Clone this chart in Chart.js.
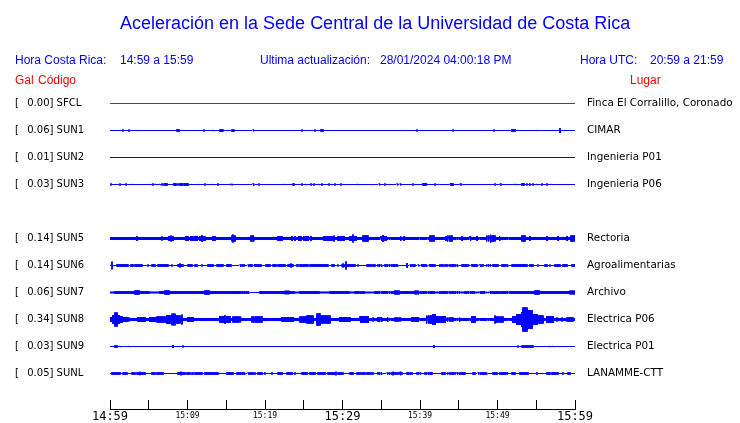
<!DOCTYPE html>
<html><head><meta charset="utf-8">
<script src="https://cdn.jsdelivr.net/npm/chart.js@4"></script>
<style>
body{margin:0;background:#fff;}
#wrap{position:relative;width:740px;height:423px;overflow:hidden;font-family:"Liberation Sans",Arial,sans-serif;}
#wrap canvas{position:absolute;left:0;top:0;}
.t{position:absolute;white-space:pre;line-height:1;}
.b{color:#0000ff;font-size:12px;}
.r{color:#ff0000;font-size:12px;}
</style></head><body>
<div id="wrap">
<canvas id="c" width="740" height="423"></canvas>
<div class="t" style="left:120px;top:14px;font-size:18px;color:#0000ff">Aceleración en la Sede Central de la Universidad de Costa Rica</div>
<div class="t b" style="left:15px;top:54px">Hora Costa Rica:</div>
<div class="t b" style="left:120px;top:54px">14:59 a 15:59</div>
<div class="t b" style="left:260px;top:54px">Ultima actualización:</div>
<div class="t b" style="left:380px;top:54px">28/01/2024 04:00:18 PM</div>
<div class="t b" style="left:580px;top:54px">Hora UTC:</div>
<div class="t b" style="left:650px;top:54px">20:59 a 21:59</div>
<div class="t r" style="left:15px;top:74px">Gal</div>
<div class="t r" style="left:38px;top:74px">Código</div>
<div class="t r" style="left:630px;top:74px">Lugar</div>
</div>
<script>
// ---- rows ----
const rowCodes  = ['SFCL','SUN1','SUN2','SUN3','','SUN5','SUN6','SUN7','SUN8','SUN9','SUNL'];
const rowGal    = [0.00, 0.06, 0.01, 0.03, null, 0.14, 0.14, 0.06, 0.34, 0.03, 0.05];
const rowPlaces = ['Finca El Corralillo, Coronado','CIMAR','Ingenieria P01','Ingenieria P06','',
                   'Rectoria','Agroalimentarias','Archivo','Electrica P06','Electrica P01','LANAMME-CTT'];

// ---- time axis (minutes after 14:59) ----
const xTickMinutes = [0,5,10,15,20,25,30,35,40,45,50,55,60];
const xTickLabels  = ['14:59','','15:09','','15:19','','15:29','','15:39','','15:49','','15:59'];

// ---- background (noise-floor) half-amplitude of each trace ----
const traceBase = {SFCL:0, SUN1:0, SUN2:0, SUN3:0, SUN5:2, SUN6:0, SUN7:0, SUN8:2, SUN9:0, SUNL:0};

// ---- SUN7: envelope half-amplitude, 93 equal time slices over the hour ----
const sun7Env = [1.2,1.7,1.7,1.7,1.7,2.5,1.7,1.7,1.2,1.2,1.7,2.5,1.7,1.7,1.7,1.7,1.7,1.7,1.7,2.5,1.7,1.7,1.7,1.7,1.7,2.0,1.7,1.7,0.7,0.7,1.7,1.7,1.7,1.7,1.7,2.2,1.7,1.2,1.7,1.7,1.7,1.7,1.2,1.2,1.7,1.7,1.7,1.7,1.2,1.7,1.7,1.2,1.2,1.7,1.7,1.7,1.7,2.5,1.7,1.7,1.7,2.3,1.7,1.7,1.7,1.2,1.7,1.7,1.7,1.7,1.2,1.7,1.7,1.2,1.7,1.2,1.7,1.7,1.7,1.7,1.7,1.7,1.7,1.7,1.7,2.5,1.7,1.7,1.7,1.7,1.7,1.7,2.3];

// ---- events: [minute, halfAmp] or [fromMinute, toMinute, halfAmp] ----
const sun1Spikes = [[1.72,1.5],[2.49,1.5],[3.35,0.8],[8.65,8.90,1.7],[9.03,0.8],[12.17,1.5],[13.33,1],[14.19,14.45,1.7],[14.58,1.5],[15.74,16.00,1.5],[18.45,1.5],[24.74,1.5],[25.42,0.8],[26.45,1.5],[26.84,1],[27.23,27.48,1.7],[37.85,0.8],[39.65,1.5],[44.30,1.5],[49.59,1.5],[51.87,52.26,1.7],[55.14,0.8],[58.10,3]];
const sun3Spikes = [[0.13,1.5],[1.33,1.5],[2.10,1.5],[2.88,0.8],[5.25,0.8],[5.59,1.5],[5.90,1],[6.45,1],[6.75,1.5],[7.01,1.5],[7.10,7.35,1.7],[8.22,8.48,1.7],[8.74,1.5],[8.99,9.25,1.7],[9.51,10.10,1.7],[11.48,0.8],[12.26,1.5],[13.33,0.8],[13.97,1.5],[15.48,1],[15.70,1.2],[18.49,18.62,1.7],[19.26,1.5],[22.58,0.8],[23.55,23.74,1.5],[24.74,1.5],[25.29,1],[25.90,1.5],[26.36,1.5],[27.01,1],[27.39,1.5],[28.30,1.5],[28.68,1],[29.03,1.5],[29.77,1.5],[32.04,1],[33.85,0.8],[34.75,1.5],[35.48,1.5],[36.99,1.5],[37.42,1.5],[39.14,1.5],[40.39,40.71,1.7],[41.94,1.5],[42.49,0.8],[43.94,44.26,1.7],[45.29,1.5],[45.59,0.8],[49.68,1.5],[50.41,1.5],[52.13,0.8],[52.39,1],[53.12,53.46,1.7],[53.85,1.5],[54.19,1.5],[54.54,1.5],[55.06,1],[55.78,1.5],[56.43,1.5],[57.07,0.8]];
const sun5Bursts = [[3.52,3],[6.67,2.5],[7.65,8.17,3],[7.87,3.5],[9.81,10.10,3],[10.45,10.70,3],[10.95,11.19,3],[11.61,12.26,3],[11.87,3.8],[13.33,13.55,3],[15.70,16.13,3.5],[15.87,4.5],[18.15,18.58,3.5],[21.64,22.15,3],[23.45,3],[23.87,3],[24.43,24.70,3],[25.00,3],[25.30,25.51,3],[25.90,3],[27.65,28.61,3],[28.94,3.5],[29.46,30.23,3],[30.97,31.74,3],[31.39,4.5],[32.65,33.29,3.5],[34.97,35.61,3],[35.26,4],[37.55,3],[37.97,3],[41.29,41.81,3.5],[43.32,3],[43.61,44.13,3.5],[45.38,3],[46.45,3],[47.32,3],[48.61,49.68,3.5],[49.16,4.5],[50.32,3],[53.12,53.55,3.5],[54.19,3],[56.35,3],[57.85,3],[58.93,3],[59.48,60.00,3.5]];
const sun6Blocks = [[0.30,4.3],[0.86,2.37,1.6],[2.71,3.01,1.6],[3.23,4.09,1.6],[4.86,1.5],[5.38,5.81,1.6],[6.24,6.67,1.6],[6.88,7.53,1.6],[7.96,1.5],[8.82,9.46,1.6],[9.03,2.5],[10.11,10.54,1.6],[10.97,11.18,1.6],[11.83,1.5],[12.69,13.33,1.6],[13.76,14.62,1.6],[15.05,1.7],[15.27,15.57,1.6],[16.77,17.33,1.6],[17.85,18.28,1.6],[18.71,19.48,1.6],[20.13,20.65,1.6],[21.07,21.38,1.6],[21.72,22.58,1.6],[23.01,23.66,1.6],[23.31,2.5],[24.09,24.30,1.6],[24.52,25.51,1.6],[25.81,28.17,1.6],[28.60,28.94,1.6],[29.46,1.5],[29.89,31.61,1.6],[30.10,2.5],[30.41,4.5],[32.04,1.5],[33.12,34.19,1.6],[34.62,35.06,1.6],[35.48,37.20,1.6],[38.28,3],[38.71,39.35,1.6],[39.78,1.5],[40.22,40.86,1.6],[41.29,41.94,1.6],[42.58,43.01,1.6],[43.23,44.95,1.6],[45.38,46.24,1.6],[46.67,47.31,1.6],[47.74,48.17,1.6],[48.60,49.03,1.6],[49.46,50.11,1.6],[50.54,51.40,1.6],[51.83,53.76,1.6],[54.19,54.62,1.6],[55.27,1.5],[56.13,56.34,1.6],[56.77,1.5],[57.42,58.06,1.6],[58.49,58.92,1.6],[59.57,60.00,1.6]];
const sun8Bursts = [[0.00,0.43,3],[0.39,0.65,5],[0.65,0.90,7.5],[0.90,1.16,5],[1.16,1.55,4],[1.55,2.19,3],[2.45,2.5],[3.61,4.52,3],[5.16,5.81,3],[6.06,7.35,3.5],[7.35,8.00,5],[8.00,8.39,6.3],[8.39,9.03,4.5],[9.35,5.5],[10.06,10.71,3],[14.19,15.48,4],[14.84,4.8],[15.87,16.77,3.5],[18.32,19.61,3.5],[22.19,23.61,3],[24.52,25.42,3.5],[25.42,26.19,4.5],[26.71,27.10,6.5],[27.10,28.39,4.5],[29.68,30.97,3],[32.26,33.29,4],[33.94,2.5],[34.58,35.10,3],[35.87,3],[36.77,37.42,2.5],[38.97,39.74,3],[40.90,41.55,4.5],[41.68,41.94,6],[41.94,43.23,4],[43.48,44.26,2.5],[45.16,2.5],[46.71,47.10,4],[49.68,50.71,3.5],[49.74,4.5],[52.00,52.52,4],[52.52,53.16,6],[53.16,53.29,8],[53.29,53.81,12.5],[53.81,54.45,10],[54.45,55.10,6],[55.10,55.87,4.5],[56.39,57.16,4],[57.68,2.5],[58.32,2.5],[58.97,59.74,2.5]];
const sun9Spikes = [[0.65,0.90,1.7],[1.29,1],[2.45,1],[8.13,2],[9.42,1.5],[41.81,2],[52.68,1.5],[53.12,54.54,1.5],[56.77,1],[57.16,1]];
const sunlBlocks = [[0.26,1.29,1.6],[1.68,2.19,1.6],[2.84,3.23,1.6],[3.48,4.52,1.6],[3.87,2.2],[5.42,5.81,1.6],[6.06,6.84,1.6],[8.77,9.68,1.6],[9.16,2.3],[9.94,10.32,1.6],[10.58,10.71,1.6],[10.97,11.87,1.6],[12.26,13.94,1.6],[15.10,15.87,1.6],[16.39,17.42,1.6],[17.81,18.71,1.6],[19.10,19.61,1.6],[20.00,1.6],[20.90,1.6],[21.68,22.19,1.6],[22.84,23.48,1.6],[23.87,1.6],[24.77,25.42,1.6],[25.81,26.45,1.6],[26.84,27.74,1.6],[28.13,29.03,1.6],[29.16,2.3],[29.42,30.06,1.6],[30.97,31.35,1.6],[31.87,32.90,1.6],[33.16,33.94,1.6],[34.58,35.10,1.6],[35.74,37.68,1.6],[36.52,2.3],[37.42,2.3],[38.32,38.97,1.6],[39.61,40.00,1.6],[40.65,41.55,1.6],[42.84,43.23,1.6],[43.61,44.52,1.6],[44.77,45.81,1.6],[46.84,47.10,1.6],[47.48,48.65,1.6],[49.42,49.94,1.6],[50.32,51.23,1.6],[51.87,52.26,1.6],[52.90,53.94,1.6],[55.10,1.6],[56.39,56.77,1.6],[57.03,57.81,1.6],[58.45,1.6],[59.10,59.35,1.6]];

const traceEnv    = {SUN7: sun7Env};
const traceEvents = {SUN1: sun1Spikes, SUN3: sun3Spikes, SUN5: sun5Bursts, SUN6: sun6Blocks,
                     SUN8: sun8Bursts, SUN9: sun9Spikes, SUNL: sunlBlocks};

// ---- build datasets (one vertical stroke per pixel column) ----
const SPAN = 60, COLS = 465, AMP_PER_ROW = 27;
const dt = SPAN / COLS;
function ampAt(code, t){
  let a = traceBase[code] || 0;
  const env = traceEnv[code];
  if (env) a = env[Math.min(env.length - 1, Math.floor(t / (SPAN / env.length) + 1e-9))];
  const ev = traceEvents[code];
  if (ev) for (const e of ev){
    const s = e[0], en = e.length === 3 ? e[1] : e[0], v = e[e.length - 1];
    if (t >= s - dt/2 && t <= en + dt/2) a = Math.max(a, v);
  }
  return Math.max(0, a - 0.5) / AMP_PER_ROW;
}
const datasets = [];
rowCodes.forEach((code, row) => {
  if (!code) return;
  const pts = [];
  for (let p = 0; p <= COLS; p++){
    const t = p * dt;
    const a = ampAt(code, t);
    pts.push({x: t, y: row - a});
    pts.push({x: t, y: row + a});
  }
  datasets.push({label: code, data: pts, borderColor: code === 'SFCL' ? '#ff0000' : '#0000ff',
                 borderWidth: 1, pointRadius: 0, tension: 0, fill: false, yAxisID: 'y'});
});

const rowIdx = rowCodes.map((c, i) => i);
const leftLabels = rowCodes.map((c, i) => c ? '[  \u2009' + rowGal[i].toFixed(2) + '] ' + c : '');
const yMin = -0.5, yMax = -0.5 + (409 - 90) / 27;
function noPad(s){ s.paddingTop = 0; s.paddingBottom = 0; }

new Chart(document.getElementById('c'), {
  type: 'line',
  data: {datasets},
  options: {
    responsive: false, animation: false, devicePixelRatio: 1,
    parsing: false, normalized: true,
    layout: {padding: {top: 90, left: 15, right: 0, bottom: 0}},
    plugins: {legend: {display: false}, tooltip: {enabled: false}, title: {display: false}},
    scales: {
      x: {
        type: 'linear', position: 'bottom', min: 0, max: SPAN,
        afterFit(s){ s.height = 14; s.paddingLeft = 0; s.paddingRight = 0; },
        afterBuildTicks(s){ s.ticks = xTickMinutes.map(v => ({value: v})); },
        grid: {display: true, drawOnChartArea: false, drawTicks: true, tickLength: -9, tickColor: '#000', color: '#000', lineWidth: 1},
        border: {display: true, color: '#000', width: 1},
        ticks: {
          autoSkip: false, maxRotation: 0, minRotation: 0, padding: 10, color: '#000',
          callback: (v, i) => xTickLabels[i],
          font: c => (c.index % 6 === 0) ? {family: 'DejaVu Sans Mono', size: 12, lineHeight: '14.6px'}
                                         : {family: 'DejaVu Sans Mono', size: 8, lineHeight: '11.4px'}
        }
      },
      y: {
        type: 'linear', position: 'left', reverse: true, min: yMin, max: yMax,
        afterFit(s){ s.width = 95; noPad(s); },
        afterBuildTicks(s){ s.ticks = rowIdx.map(v => ({value: v})); },
        grid: {display: false, drawTicks: false}, border: {display: false},
        ticks: {crossAlign: 'far', padding: 0, color: '#000', autoSkip: false,
                font: {family: 'DejaVu Sans', size: 10}, callback: (v, i) => leftLabels[i]}
      },
      y2: {
        type: 'linear', position: 'right', reverse: true, min: yMin, max: yMax,
        afterFit(s){ s.width = 165; noPad(s); },
        afterBuildTicks(s){ s.ticks = rowIdx.map(v => ({value: v})); },
        grid: {display: false, drawTicks: false}, border: {display: false},
        ticks: {crossAlign: 'near', padding: 12, color: '#000', autoSkip: false,
                font: {family: 'DejaVu Sans', size: 10.4}, callback: (v, i) => rowPlaces[i]}
      }
    }
  }
});
</script>
</body></html>
